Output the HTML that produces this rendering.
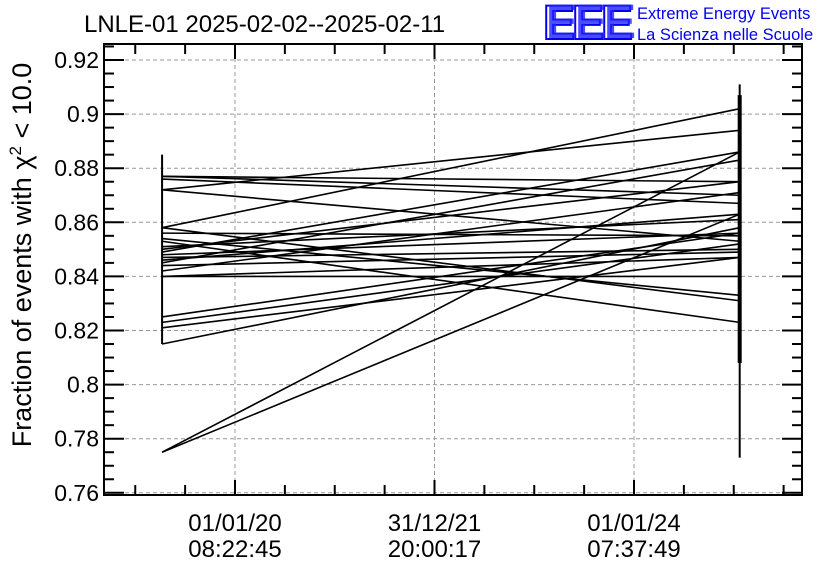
<!DOCTYPE html>
<html><head><meta charset="utf-8"><style>
body{margin:0;background:#fff;}
svg{display:block;font-family:"Liberation Sans",sans-serif;}
</style></head><body>
<svg id="chart" width="836" height="572" viewBox="0 0 836 572">
<text x="84" y="32" font-size="24">LNLE-01 2025-02-02--2025-02-11</text>
<g>
<text x="543" y="39" font-size="48" fill="#fff" stroke="#0000ee" stroke-width="2" font-weight="bold" letter-spacing="-3">EEE</text>
<text x="546" y="38" font-size="48" fill="#2020ff" font-weight="bold" letter-spacing="-3" opacity="0.8">EEE</text>
<text x="637" y="19" font-size="16.5" fill="#0000ee">Extreme Energy Events</text>
<text x="637" y="40" font-size="16.5" fill="#0000ee">La Scienza nelle Scuole</text>
</g>
<text transform="translate(31,255) rotate(-90)" text-anchor="middle" font-size="27">Fraction of events with χ<tspan dy="-10" font-size="17">2</tspan><tspan dy="10"> &lt; 10.0</tspan></text>
<g id="grid"></g><g id="marks"></g><g id="axes"></g>
</svg>
<script>
const yTicks=[0.76,0.78,0.80,0.82,0.84,0.86,0.88,0.90,0.92];
const yTickLabels=["0.76","0.78","0.8","0.82","0.84","0.86","0.88","0.9","0.92"];
const xTicks=[0,730.5,1461];
const xTickLine1=["01/01/20","31/12/21","01/01/24"];
const xTickLine2=["08:22:45","20:00:17","07:37:49"];
const tLeft=-267, tRight=1848;
const startVals=[0.877,0.877,0.876,0.872,0.872,0.858,0.858,0.854,0.849,0.848,0.847,0.846,0.845,0.842,0.840,0.840,0.853,0.850,0.825,0.823,0.821,0.815,0.775,0.775,0.856,0.851,0.844];
const endVals=[0.870,0.875,0.867,0.894,0.853,0.902,0.831,0.833,0.886,0.856,0.850,0.863,0.883,0.871,0.840,0.847,0.823,0.875,0.856,0.852,0.847,0.858,0.886,0.863,0.855,0.861,0.849];
const leftRange=[0.885,0.815];
const rightRange=[0.911,0.773];
const rightThick=[0.907,0.808];

const X0=104,X1=802,Y0=44,Y1=495;
const xs=t=>235+(t/730.5)*199.5;
const ys=v=>60+(0.92-v)/0.02*54.1;
const NS="http://www.w3.org/2000/svg";
function mk(tag,attrs,parent){const e=document.createElementNS(NS,tag);for(const k in attrs)e.setAttribute(k,attrs[k]);parent.appendChild(e);return e;}
const grid=document.getElementById('grid'),marks=document.getElementById('marks'),axes=document.getElementById('axes');
yTicks.forEach((v,i)=>{
 const y=ys(v);
 const g=mk('line',{x1:X0,x2:X1,y1:y,y2:y,stroke:'#999','stroke-dasharray':'4,3','stroke-width':1},grid);
 
 
 const t=mk('text',{x:99,y:y+8,'text-anchor':'end','font-size':23},axes);
 t.textContent=yTickLabels[i];
 
 
 mk('line',{x1:X0,x2:X0+20,y1:y,y2:y,stroke:'#000','stroke-width':2},axes);
 mk('line',{x1:X1,x2:X1-20,y1:y,y2:y,stroke:'#000','stroke-width':2},axes);
 for(let k=1;k<4;k++){const vm=v+k*0.005;if(vm>0.925)break;const ym=ys(vm);
  mk('line',{x1:X0,x2:X0+10,y1:ym,y2:ym,stroke:'#000','stroke-width':2},axes);
  mk('line',{x1:X1,x2:X1-10,y1:ym,y2:ym,stroke:'#000','stroke-width':2},axes);}
});
xTicks.forEach((t,i)=>{
 const x=xs(t);
 const g=mk('line',{x1:x,x2:x,y1:Y0,y2:Y1,stroke:'#999','stroke-dasharray':'4,3','stroke-width':1},grid);
 
 
 const a=mk('text',{x:x,y:531,'text-anchor':'middle','font-size':24},axes);a.textContent=xTickLine1[i];
 
 
 const b=mk('text',{x:x,y:557,'text-anchor':'middle','font-size':24},axes);b.textContent=xTickLine2[i];
 
 
});
for(let t=-730.5;t<=2400;t+=730.5/4){const x=xs(t);if(x<X0+2||x>X1-2)continue;
 const maj=Math.abs((t/730.5)-Math.round(t/730.5))<0.01;const L=maj?15:10;
 mk('line',{x1:x,x2:x,y1:Y1,y2:Y1-L,stroke:'#000','stroke-width':2},axes);
 mk('line',{x1:x,x2:x,y1:Y0,y2:Y0+L,stroke:'#000','stroke-width':2},axes);}
const fr=mk('rect',{x:X0,y:Y0,width:X1-X0,height:Y1-Y0,fill:'none',stroke:'#000','stroke-width':2},axes);


startVals.forEach((v,i)=>{
 const l=mk('line',{x1:xs(tLeft),y1:ys(v),x2:xs(tRight),y2:ys(endVals[i]),stroke:'#000','stroke-width':1.6},marks);
 
 
});
const lv=mk('line',{x1:xs(tLeft),x2:xs(tLeft),y1:ys(leftRange[0]),y2:ys(leftRange[1]),stroke:'#000','stroke-width':2},marks);


const rv=mk('line',{x1:xs(tRight),x2:xs(tRight),y1:ys(rightRange[0]),y2:ys(rightRange[1]),stroke:'#000','stroke-width':2},marks);


const rt=mk('line',{x1:xs(tRight),x2:xs(tRight),y1:ys(rightThick[0]),y2:ys(rightThick[1]),stroke:'#000','stroke-width':4},marks);


</script>
</body></html>
